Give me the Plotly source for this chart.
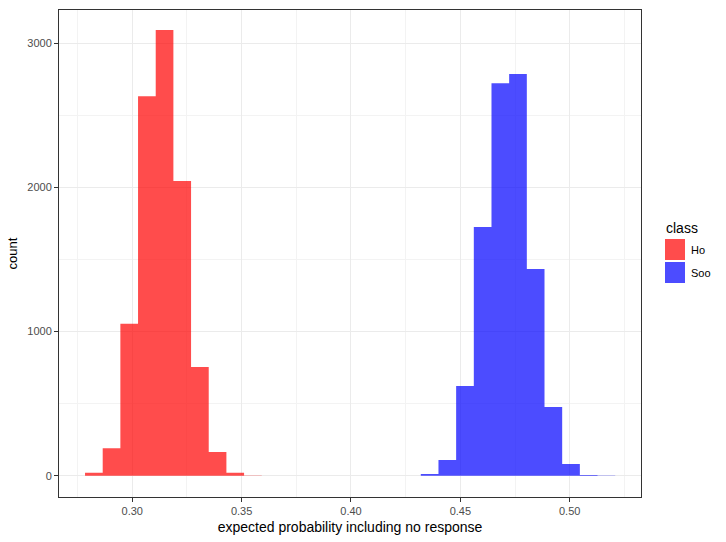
import plotly.graph_objects as go

# Histogram bin edges (30 bins over combined data, ggplot default) and counts
ho_edges = [0.27840, 0.28648, 0.29456, 0.30264, 0.31072, 0.31880,
            0.32688, 0.33496, 0.34304, 0.35112, 0.35920]
ho_counts = [20, 190, 1055, 2634, 3093, 2045, 754, 164, 20, 2]
soo_edges = [0.43192, 0.44000, 0.44808, 0.45616, 0.46424, 0.47232,
             0.48040, 0.48848, 0.49656, 0.50464, 0.51272, 0.52080]
soo_counts = [12, 109, 622, 1726, 2724, 2788, 1434, 477, 81, 5, 1]

classes = ["Ho", "Soo"]
colors = ["rgba(255,0,0,0.7)", "rgba(0,0,255,0.7)"]

x_ticks = [0.30, 0.35, 0.40, 0.45, 0.50]
x_ticklabels = ["0.30", "0.35", "0.40", "0.45", "0.50"]
y_ticks = [0, 1000, 2000, 3000]

fig = go.Figure()
for name, edges, counts, col in [(classes[0], ho_edges, ho_counts, colors[0]),
                                 (classes[1], soo_edges, soo_counts, colors[1])]:
    # Draw each class histogram as a filled step polygon so adjacent bins share exact edges
    xs, ys = [edges[0]], [0]
    for i, c in enumerate(counts):
        xs += [edges[i], edges[i + 1]]
        ys += [c, c]
    xs.append(edges[-1])
    ys.append(0)
    fig.add_trace(go.Scatter(x=xs, y=ys, mode="lines", fill="toself", fillcolor=col,
                             line=dict(width=0, color=col), name=name,
                             showlegend=False, hoverinfo="skip"))

font_family = "Liberation Sans, Arial, sans-serif"
fig.update_layout(
    width=726, height=542,
    margin=dict(l=59, r=85, t=10, b=45),
    paper_bgcolor="white", plot_bgcolor="white",
    font=dict(family=font_family, size=13, color="black"),
)
fig.update_xaxes(
    range=[0.2665, 0.5326],
    tickvals=x_ticks, ticktext=x_ticklabels,
    tickfont=dict(size=11, color="#4D4D4D"),
    ticks="outside", ticklen=4, tickcolor="#333333", tickwidth=1,
    showgrid=True, gridcolor="#EBEBEB", gridwidth=1.1,
    minor=dict(dtick=0.025, tick0=0.275, showgrid=True, gridcolor="#F3F3F3", gridwidth=0.6),
    showline=True, mirror=True, linecolor="#333333", linewidth=1,
    zeroline=False,
    title=dict(text="expected probability including no response", font=dict(size=14), standoff=5),
)
fig.update_yaxes(
    range=[-148, 3232],
    tickvals=y_ticks,
    tickfont=dict(size=11, color="#4D4D4D"),
    ticks="outside", ticklen=4, tickcolor="#333333", tickwidth=1,
    showgrid=True, gridcolor="#EBEBEB", gridwidth=1.1,
    minor=dict(dtick=500, tick0=500, showgrid=True, gridcolor="#F3F3F3", gridwidth=0.6),
    showline=True, mirror=True, linecolor="#333333", linewidth=1,
    zeroline=False,
    title=dict(text="count", font=dict(size=13), standoff=6),
)

# Manual ggplot-style legend
def px_x(p):
    return (p - 59) / 582

def px_y(p):
    return (497 - p) / 487

fig.add_annotation(text="class", xref="paper", yref="paper", x=px_x(664), y=px_y(228),
                   xanchor="left", yanchor="middle", showarrow=False, font=dict(size=14))
for i, (name, col) in enumerate(zip(classes, colors)):
    top = 239 + i * 23
    fig.add_shape(type="rect", xref="paper", yref="paper",
                  x0=px_x(665), x1=px_x(685), y0=px_y(top + 21), y1=px_y(top),
                  fillcolor=col, line=dict(width=0))
    fig.add_annotation(text=name, xref="paper", yref="paper", x=px_x(689), y=px_y(top + 10.5),
                       xanchor="left", yanchor="middle", showarrow=False, font=dict(size=11))

fig.write_html("out.html")
